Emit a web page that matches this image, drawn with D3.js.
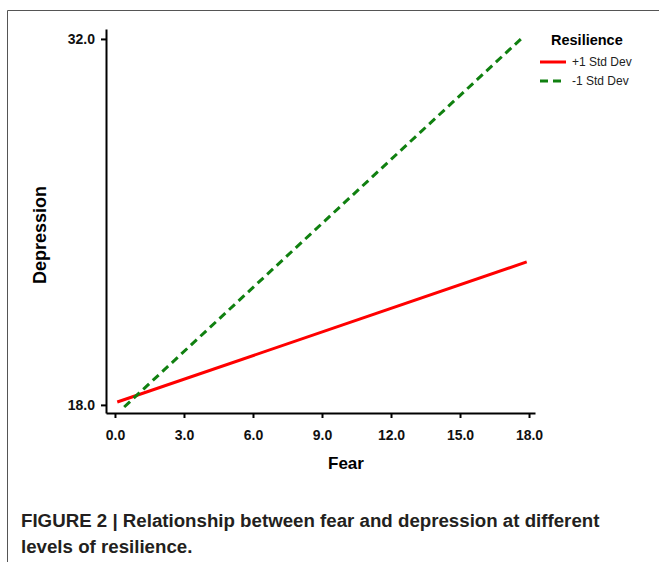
<!DOCTYPE html>
<html>
<head>
<meta charset="utf-8">
<script src="https://cdn.jsdelivr.net/npm/d3@7"></script>
<style>
  body { margin: 0; background: #fff; }
  svg { display: block; }
  .tick text { font-family: "Liberation Sans", Arial, sans-serif; font-weight: bold; font-size: 14px; fill: #111; }
</style>
</head>
<body>
<div id="chart"></div>
<script>
// simple slopes: depression predicted from fear, at two resilience levels
var seriesNames = ["+1 Std Dev", "-1 Std Dev"];
var fearHigh = [0.1, 17.9];      // +1 SD resilience
var depHigh = [18.11, 23.47];
var fearLow = [0.4, 17.7];       // -1 SD resilience
var depLow = [17.92, 32.04];
var xTicks = [0, 3, 6, 9, 12, 15, 18];
var yTicks = [18, 32];

var W = 659, H = 562;

var svg = d3.select("#chart").append("svg")
    .attr("width", W)
    .attr("height", H);

// frame of the figure panel
svg.append("path")
    .attr("d", "M7.5,562 L7.5,10.5 L659,10.5")
    .attr("fill", "none")
    .attr("stroke", "#555")
    .attr("stroke-width", 1);

var x = d3.scaleLinear().domain([-0.39, 18.26]).range([106, 535]);
var y = d3.scaleLinear().domain([17.69, 32.38]).range([413, 29]);

var xAxis = svg.append("g")
    .attr("transform", "translate(0," + 413 + ")")
    .call(d3.axisBottom(x).tickValues(xTicks).tickFormat(d3.format(".1f")).tickSize(5).tickSizeOuter(0));
xAxis.select(".domain").attr("stroke", "#000").attr("stroke-width", 2);
xAxis.selectAll(".tick line").attr("stroke", "#000").attr("stroke-width", 2);
xAxis.selectAll(".tick text").attr("y", 8).attr("dy", 19);

var yAxis = svg.append("g")
    .attr("transform", "translate(" + 106 + ",0)")
    .call(d3.axisLeft(y).tickValues(yTicks).tickFormat(d3.format(".1f")).tickSize(5).tickSizeOuter(0));
yAxis.select(".domain").attr("stroke", "#000").attr("stroke-width", 2);
yAxis.selectAll(".tick line").attr("stroke", "#000").attr("stroke-width", 2);
yAxis.selectAll(".tick text").attr("x", -11);

var line = d3.line()
    .x(function(d) { return x(d[0]); })
    .y(function(d) { return y(d[1]); });

svg.append("path")
    .datum(d3.zip(fearHigh, depHigh))
    .attr("d", line)
    .attr("fill", "none")
    .attr("stroke", "#ff0000")
    .attr("stroke-width", 3);

svg.append("path")
    .datum(d3.zip(fearLow, depLow))
    .attr("d", line)
    .attr("fill", "none")
    .attr("stroke", "#108010")
    .attr("stroke-width", 3)
    .attr("stroke-dasharray", "8,5");

// axis titles
svg.append("text")
    .attr("x", 346).attr("y", 469)
    .attr("text-anchor", "middle")
    .style("font-family", "Liberation Sans, Arial, sans-serif")
    .style("font-weight", "bold")
    .style("font-size", "17px")
    .text("Fear");

svg.append("text")
    .attr("transform", "translate(46,235) rotate(-90)")
    .attr("text-anchor", "middle")
    .style("font-family", "Liberation Sans, Arial, sans-serif")
    .style("font-weight", "bold")
    .style("font-size", "18px")
    .text("Depression");

// legend
var legend = svg.append("g");
legend.append("text")
    .attr("x", 551).attr("y", 45)
    .style("font-family", "Liberation Sans, Arial, sans-serif")
    .style("font-weight", "bold")
    .style("font-size", "14.5px")
    .text("Resilience");

var styles = [
    {color: "#ff0000", dash: null},
    {color: "#108010", dash: "8,5"}
];
seriesNames.forEach(function(name, i) {
    var ly = 62 + i * 19;
    legend.append("line")
        .attr("x1", 540).attr("x2", 566)
        .attr("y1", ly).attr("y2", ly)
        .attr("stroke", styles[i].color)
        .attr("stroke-width", 3)
        .attr("stroke-dasharray", styles[i].dash);
    legend.append("text")
        .attr("x", 572).attr("y", ly + 4)
        .style("font-family", "Liberation Sans, Arial, sans-serif")
        .style("font-size", "12px")
        .style("fill", "#222")
        .text(name);
});

// caption
var caption = svg.append("text")
    .style("font-family", "Liberation Sans, Arial, sans-serif")
    .style("font-weight", "bold")
    .style("font-size", "18.7px")
    .style("fill", "#231f20");
caption.append("tspan").attr("x", 21).attr("y", 527)
    .text("FIGURE 2 | Relationship between fear and depression at different");
caption.append("tspan").attr("x", 21).attr("y", 553)
    .text("levels of resilience.");
</script>
</body>
</html>
